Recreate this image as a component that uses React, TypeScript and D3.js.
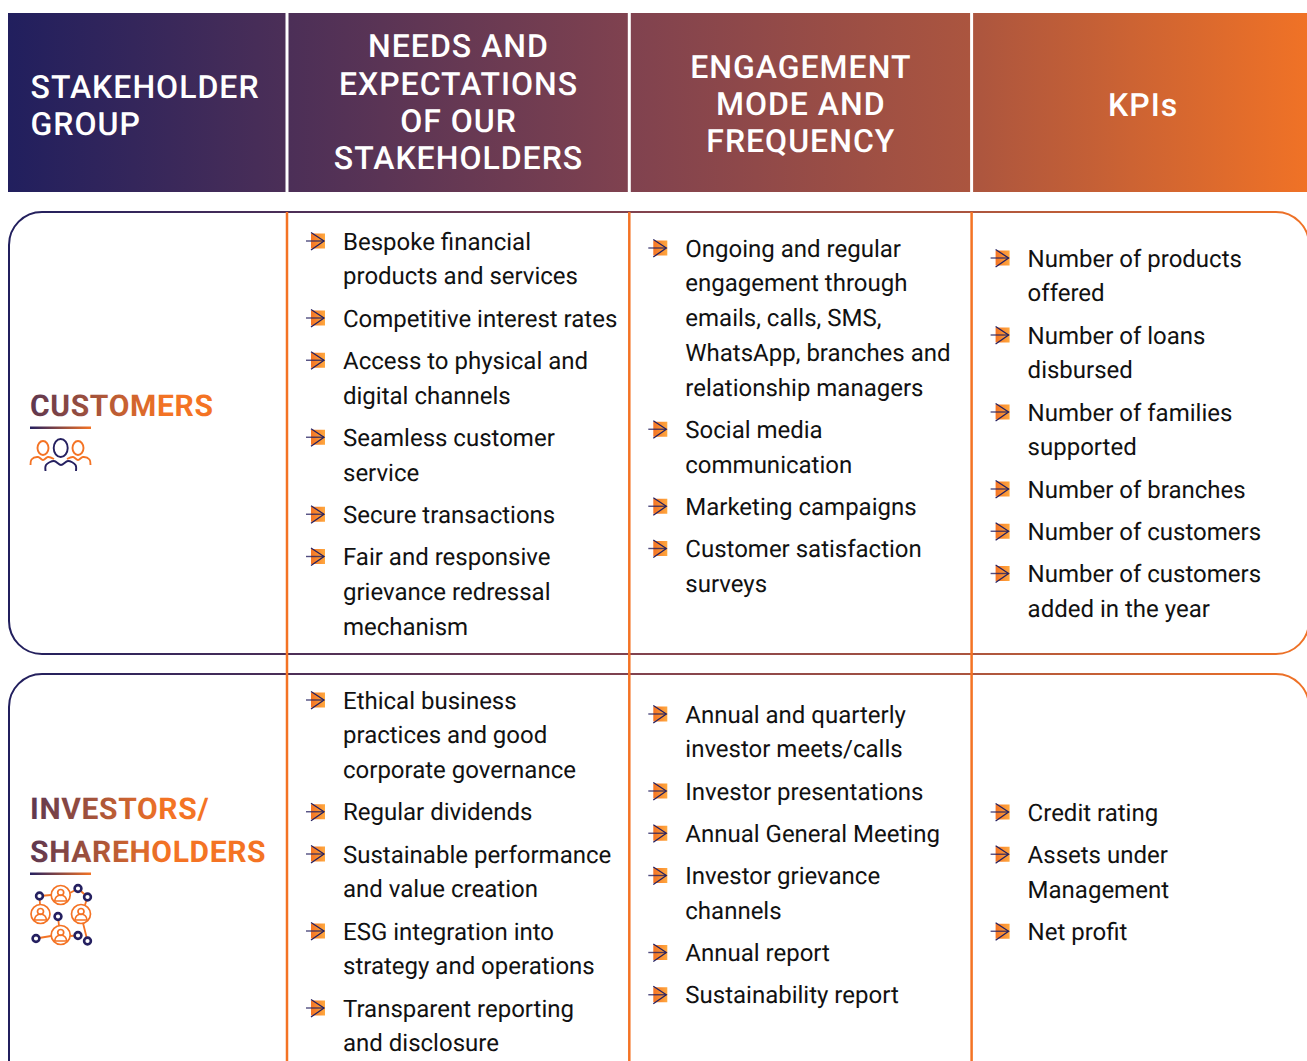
import React from 'react';
import * as d3 from 'd3';

const headers = [
  ['STAKEHOLDER', 'GROUP'],
  ['NEEDS AND', 'EXPECTATIONS', 'OF OUR', 'STAKEHOLDERS'],
  ['ENGAGEMENT', 'MODE AND', 'FREQUENCY'],
  ['KPIs'],
];

const customerNeeds = [
  ['Bespoke financial', 'products and services'],
  ['Competitive interest rates'],
  ['Access to physical and', 'digital channels'],
  ['Seamless customer', 'service'],
  ['Secure transactions'],
  ['Fair and responsive', 'grievance redressal', 'mechanism'],
];
const customerModes = [
  ['Ongoing and regular', 'engagement through', 'emails, calls, SMS,', 'WhatsApp, branches and', 'relationship managers'],
  ['Social media', 'communication'],
  ['Marketing campaigns'],
  ['Customer satisfaction', 'surveys'],
];
const customerKpis = [
  ['Number of products', 'offered'],
  ['Number of loans', 'disbursed'],
  ['Number of families', 'supported'],
  ['Number of branches'],
  ['Number of customers'],
  ['Number of customers', 'added in the year'],
];
const investorNeeds = [
  ['Ethical business', 'practices and good', 'corporate governance'],
  ['Regular dividends'],
  ['Sustainable performance', 'and value creation'],
  ['ESG integration into', 'strategy and operations'],
  ['Transparent reporting', 'and disclosure'],
];
const investorModes = [
  ['Annual and quarterly', 'investor meets/calls'],
  ['Investor presentations'],
  ['Annual General Meeting'],
  ['Investor grievance', 'channels'],
  ['Annual report'],
  ['Sustainability report'],
];
const investorKpis = [
  ['Credit rating'],
  ['Assets under', 'Management'],
  ['Net profit'],
];

const columnsData = [
  { items: customerNeeds, col: 0, top: 242 },
  { items: customerModes, col: 1, top: 249 },
  { items: customerKpis, col: 2, top: 259 },
  { items: investorNeeds, col: 0, top: 701 },
  { items: investorModes, col: 1, top: 715 },
  { items: investorKpis, col: 2, top: 813 },
];

const NAVY = '#252060';
const ORANGE = '#f47324';
const FONT = 'Roboto, sans-serif';
const LINE = 34.75;
const ITEM_GAP = 7.5;

// column separators
const colX = d3.scaleLinear().domain([0, 1]).range([287, 629.3]);

function Bullet({ x, y }: { x: number; y: number }) {
  const line = d3.line();
  return (
    <g transform={`translate(${x},${y})`}>
      <rect x={5} y={-7.5} width={14} height={15} fill="url(#bulletFill)" />
      <path d={line([[0, 0], [18, 0]]) || ''} stroke={NAVY} strokeOpacity={0.8} strokeWidth={1.4} fill="none" />
      <path d={line([[5, -8.5], [18, 0], [5, 9]]) || ''} stroke={NAVY} strokeWidth={1.3} fill="none" />
    </g>
  );
}

function Cell({ items, col, top }: { items: string[][]; col: number; top: number }) {
  let lineIdx = 0;
  const x = colX(col);
  return (
    <g>
      {items.map((lines, i) => {
        const start = lineIdx;
        lineIdx += lines.length;
        const yAt = (k: number) => top + (start + k) * LINE + i * ITEM_GAP;
        return (
          <g key={i}>
            <Bullet x={x + 19} y={yAt(0) - 1} />
            {lines.map((t, k) => (
              <text key={k} x={x + 56} y={yAt(k) + 7.5} fontFamily={FONT} fontSize={24} fill="#111" textRendering="geometricPrecision">
                {t}
              </text>
            ))}
          </g>
        );
      })}
    </g>
  );
}

function CustomersIcon() {
  const curve = d3.line().curve(d3.curveCatmullRom.alpha(0.5));
  const sides = [
    { cx: 43, pts: [[30.5, 465], [31.5, 459.5], [38, 457], [43, 460], [48, 457], [54, 459]] },
    { cx: 78, pts: [[67, 459], [73, 457], [78, 460], [83, 457], [89.5, 459.5], [90.5, 465]] },
  ];
  return (
    <g fill="none" strokeWidth={1.9}>
      {sides.map((s, i) => (
        <g key={i} stroke={ORANGE}>
          <ellipse cx={s.cx} cy={448} rx={5.5} ry={7} />
          <path d={curve(s.pts as [number, number][]) || ''} />
        </g>
      ))}
      <g stroke={NAVY}>
        <ellipse cx={60.7} cy={448} rx={7} ry={9} />
        <path d={curve([[45.5, 471], [46, 465], [54, 461], [61, 465], [68, 461], [75.5, 465], [76, 471]]) || ''} />
      </g>
    </g>
  );
}

function InvestorsIcon() {
  const people = [[60.7, 895], [40.5, 914], [81, 914], [60.7, 935]];
  const nodes = [[39.5, 896], [78, 888.5], [87.5, 897], [58, 916.5], [36, 938.5], [78, 935.5], [87.5, 941]];
  const links = [
    [[39.5, 896], [51, 895]],
    [[39.5, 896], [40, 905]],
    [[70, 893], [78, 888.5]],
    [[78, 888.5], [87.5, 897]],
    [[87.5, 897], [85, 905]],
    [[58, 916.5], [59, 926]],
    [[36, 938.5], [51, 936]],
    [[70, 936], [78, 935.5]],
    [[83, 923], [87.5, 941]],
  ];
  const line = d3.line();
  const shoulders = d3.arc()({ innerRadius: 0, outerRadius: 6, startAngle: -Math.PI / 2, endAngle: Math.PI / 2 }) || '';
  return (
    <g fill="none">
      {links.map((l, i) => (
        <path key={i} d={line(l as [number, number][]) || ''} stroke={ORANGE} strokeWidth={1.8} />
      ))}
      {people.map(([x, y], i) => (
        <g key={i} transform={`translate(${x},${y})`} stroke={ORANGE} strokeWidth={1.7}>
          <circle r={9.5} fill="#fff" />
          <circle cy={-2.5} r={3} />
          <path d={shoulders} transform="translate(0,6)" />
        </g>
      ))}
      {nodes.map(([x, y], i) => (
        <circle key={i} cx={x} cy={y} r={3.4} stroke={NAVY} strokeWidth={2.6} fill="#fff" />
      ))}
    </g>
  );
}

export default function App() {
  const width = 1307;
  const height = 1061;
  return (
    <svg
      width={width}
      height={height}
      viewBox={`0 0 ${width} ${height}`}
      style={{ position: 'absolute', left: 0, top: 0, display: 'block', background: '#fff' }}
    >
      <defs>
        <linearGradient id="band" gradientUnits="userSpaceOnUse" x1={8} x2={1307} y1={0} y2={0}>
          <stop offset="0" stopColor="#211f5e" />
          <stop offset="0.48" stopColor="#80424f" />
          <stop offset="0.74" stopColor="#ab553f" />
          <stop offset="1" stopColor="#f07226" />
        </linearGradient>
        <linearGradient id="titleFill" gradientUnits="userSpaceOnUse" x1={-20} x2={165} y1={0} y2={0}>
          <stop offset="0" stopColor={NAVY} />
          <stop offset="1" stopColor={ORANGE} />
        </linearGradient>
        <linearGradient id="rule" gradientUnits="userSpaceOnUse" x1={30} x2={91} y1={0} y2={0}>
          <stop offset="0" stopColor={NAVY} />
          <stop offset="1" stopColor={ORANGE} />
        </linearGradient>
        <linearGradient id="bulletFill" x1="0" x2="1" y1="0" y2="0">
          <stop offset="0" stopColor={ORANGE} />
          <stop offset="1" stopColor="#ffa83f" />
        </linearGradient>
      </defs>

      {/* header band */}
      <rect x={8} y={13} width={1299} height={179} fill="url(#band)" />
      {[0, 1, 2].map((c) => (
        <rect key={c} x={colX(c) - 1.5} y={13} width={3} height={179} fill="#fff" />
      ))}
      {headers.map((lines, c) => {
        const cy = c === 0 ? 105 : c === 1 ? 101.7 : c === 2 ? 103.5 : 104.5;
        const cx = c === 0 ? 30.5 : colX(c - 1) + 171.5;
        return lines.map((t, k) => (
          <text
            key={`${c}-${k}`}
            x={cx}
            y={cy + (k - (lines.length - 1) / 2) * 37.2 + 11.5}
            textAnchor={c === 0 ? 'start' : 'middle'}
            fontFamily={FONT}
            fontWeight={500}
            fontSize={32}
            letterSpacing={1}
            fill="#fff"
            textRendering="geometricPrecision"
          >
            {t}
          </text>
        ));
      })}

      {/* row frames, right side runs off the page */}
      <rect x={9} y={212} width={1300} height={442} rx={33} ry={33} fill="none" stroke="url(#band)" strokeWidth={2} />
      <rect x={9} y={674} width={1300} height={442} rx={33} ry={33} fill="none" stroke="url(#band)" strokeWidth={2} />
      {[0, 1, 2].map((c) => (
        <rect key={c} x={colX(c) - 1.25} y={212} width={2.5} height={849} fill={ORANGE} />
      ))}

      {/* stakeholder names */}
      <text x={30} y={416} fontFamily={FONT} fontWeight={700} fontSize={30} letterSpacing={0.66} fill="url(#titleFill)" textRendering="geometricPrecision">
        CUSTOMERS
      </text>
      <rect x={30} y={426.5} width={61} height={2.5} fill="url(#rule)" />
      <CustomersIcon />

      <text x={30} y={819} fontFamily={FONT} fontWeight={700} fontSize={30} letterSpacing={0.66} fill="url(#titleFill)" textRendering="geometricPrecision">
        INVESTORS/
      </text>
      <text x={30} y={862} fontFamily={FONT} fontWeight={700} fontSize={30} letterSpacing={0.66} fill="url(#titleFill)" textRendering="geometricPrecision">
        SHAREHOLDERS
      </text>
      <rect x={30} y={872.5} width={61} height={2.5} fill="url(#rule)" />
      <InvestorsIcon />

      {columnsData.map((d, i) => (
        <Cell key={i} items={d.items} col={d.col} top={d.top} />
      ))}
    </svg>
  );
}
